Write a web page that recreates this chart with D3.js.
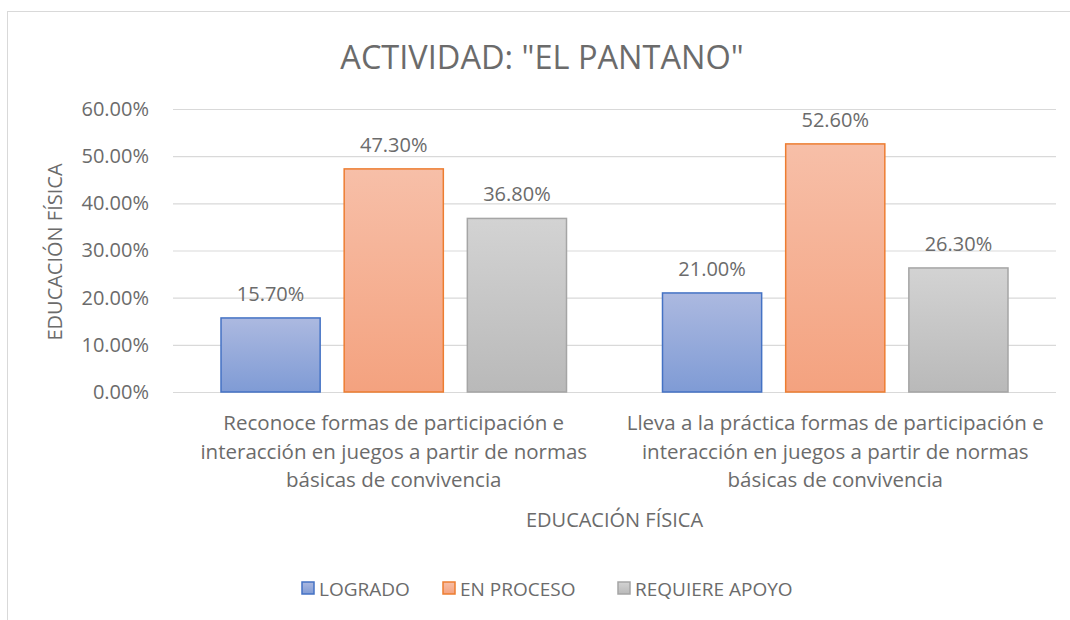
<!DOCTYPE html>
<html>
<head>
<meta charset="utf-8">
<script src="https://cdn.jsdelivr.net/npm/d3@7"></script>
<style>
  body { margin: 0; background: #fff; }
  text { font-family: "Open Sans", "Noto Sans", sans-serif; fill: #6b6b6b; }
</style>
</head>
<body>
<div id="chart"></div>
<script>
// data
const categories = [
  ["Reconoce formas de participación e", "interacción en juegos a partir de normas", "básicas de convivencia"],
  ["Lleva a la práctica formas de participación e", "interacción en juegos a partir de normas", "básicas de convivencia"]
];
const seriesNames = ["LOGRADO", "EN PROCESO", "REQUIERE APOYO"];
const logrado = [0.157, 0.21];
const enProceso = [0.473, 0.526];
const requiereApoyo = [0.368, 0.263];
const yTicks = [0, 0.1, 0.2, 0.3, 0.4, 0.5, 0.6];

const seriesValues = [logrado, enProceso, requiereApoyo];
const colors = [
  { top: "#acb9e0", bottom: "#7f9bd5", stroke: "#4472c4" },
  { top: "#f7bfa8", bottom: "#f4a27f", stroke: "#ed7d31" },
  { top: "#d3d3d3", bottom: "#b9b9b9", stroke: "#a5a5a5" }
];

const W = 1070, H = 620;
const margin = { top: 109, right: 14, bottom: 228, left: 173 };
const width = W - margin.left - margin.right;
const height = H - margin.top - margin.bottom;

const svg = d3.select("#chart").append("svg")
  .attr("width", W).attr("height", H);

// chart frame
svg.append("rect")
  .attr("x", 7.5).attr("y", 11.5)
  .attr("width", W + 10).attr("height", H + 10)
  .attr("fill", "none").attr("stroke", "#d9d9d9");

const defs = svg.append("defs");
colors.forEach((c, i) => {
  const g = defs.append("linearGradient")
    .attr("id", "grad" + i)
    .attr("x1", 0).attr("y1", 0).attr("x2", 0).attr("y2", 1);
  g.append("stop").attr("offset", "0%").attr("stop-color", c.top);
  g.append("stop").attr("offset", "100%").attr("stop-color", c.bottom);
});

const g = svg.append("g")
  .attr("transform", "translate(" + margin.left + "," + margin.top + ")");

const x0 = d3.scaleBand()
  .domain(d3.range(categories.length))
  .range([0, width]);
const x1 = d3.scaleBand()
  .domain(d3.range(seriesNames.length))
  .range([48, x0.bandwidth() - 48])
  .paddingInner(0.195);
const y = d3.scaleLinear().domain([0, 0.6]).range([height, 0]);

// gridlines
g.selectAll(".grid").data(yTicks).enter().append("line")
  .attr("x1", 0).attr("x2", width)
  .attr("y1", d => y(d) + 0.5).attr("y2", d => y(d) + 0.5)
  .attr("stroke", "#d9d9d9").attr("stroke-width", 1.2);

// y axis labels
const yAxis = d3.axisLeft(y).tickValues(yTicks)
  .tickFormat(d => (d * 100).toFixed(2) + "%")
  .tickSize(0).tickPadding(24);
const ya = g.append("g").call(yAxis);
ya.select(".domain").remove();
ya.selectAll("text")
  .style("font-size", "20px")
  .attr("fill", "#6b6b6b");

// bars
const groups = g.selectAll(".cat").data(categories).enter().append("g")
  .attr("transform", (d, i) => "translate(" + x0(i) + ",0)");

groups.selectAll("rect")
  .data((d, i) => seriesValues.map((s, j) => ({ j: j, v: s[i] })))
  .enter().append("rect")
  .attr("x", d => x1(d.j))
  .attr("y", d => y(d.v))
  .attr("width", x1.bandwidth())
  .attr("height", d => y(0) - y(d.v))
  .attr("fill", d => "url(#grad" + d.j + ")")
  .attr("stroke", d => colors[d.j].stroke)
  .attr("stroke-width", 1.5);

groups.selectAll(".lbl")
  .data((d, i) => seriesValues.map((s, j) => ({ j: j, v: s[i] })))
  .enter().append("text")
  .attr("x", d => x1(d.j) + x1.bandwidth() / 2)
  .attr("y", d => y(d.v) - 17)
  .attr("text-anchor", "middle")
  .style("font-size", "20px")
  .text(d => (d.v * 100).toFixed(2) + "%");

// category labels
groups.each(function (lines) {
  const t = d3.select(this).append("text")
    .attr("text-anchor", "middle")
    .style("font-size", "20.5px");
  lines.forEach((ln, k) => {
    t.append("tspan")
      .attr("x", x0.bandwidth() / 2)
      .attr("y", height + 38 + k * 28.5)
      .text(ln);
  });
});

// axis titles
svg.append("text")
  .attr("x", margin.left + width / 2).attr("y", 527)
  .attr("text-anchor", "middle")
  .style("font-size", "20px")
  .text("EDUCACIÓN FÍSICA");

svg.append("text")
  .attr("transform", "translate(62,252) rotate(-90)")
  .attr("text-anchor", "middle")
  .style("font-size", "20px")
  .text("EDUCACIÓN FÍSICA");

// title
svg.append("text")
  .attr("x", 542).attr("y", 69)
  .attr("text-anchor", "middle")
  .style("font-size", "32.5px")
  .text('ACTIVIDAD: "EL PANTANO"');

// legend
const legendX = [302, 443, 618];
const leg = svg.append("g");
seriesNames.forEach((n, i) => {
  const lg = leg.append("g").attr("transform", "translate(" + legendX[i] + ",582)");
  lg.append("rect")
    .attr("width", 12).attr("height", 12)
    .attr("fill", "url(#grad" + i + ")")
    .attr("stroke", colors[i].stroke).attr("stroke-width", 1.5);
  lg.append("text")
    .attr("x", 17).attr("y", 13.5)
    .style("font-size", "19px")
    .text(n);
});
</script>
</body>
</html>
